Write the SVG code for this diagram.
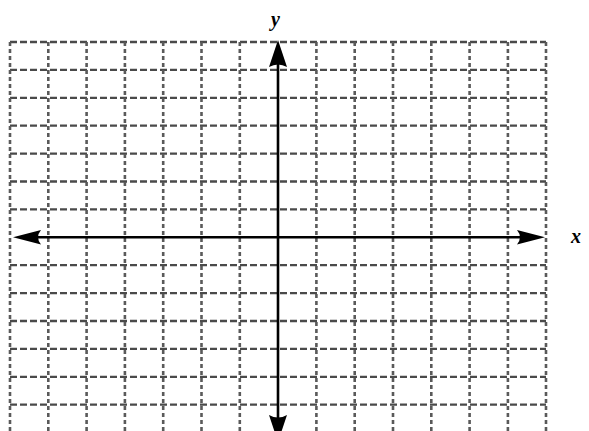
<svg xmlns="http://www.w3.org/2000/svg" width="589" height="431" viewBox="0 0 589 431">
<style>
.h{stroke:#4a4a4a;stroke-width:2.3;stroke-dasharray:7 3;fill:none}
.v{stroke:#5a5a5a;stroke-width:2.6;stroke-dasharray:4 3;fill:none}
.ax{stroke:#000;stroke-width:2.6;fill:none}
.ah{fill:#000}
.lbl{font-family:"Liberation Serif",serif;font-style:italic;font-weight:bold;font-size:20px;fill:#000}
</style>
<rect width="589" height="431" fill="#fff"/>
<g id="grid">
<path class="h" d="M10 42H546M10 69.9H546M10 97.8H546M10 125.7H546M10 153.6H546M10 181.5H546M10 209.4H546M10 265.2H546M10 293.1H546M10 321H546M10 348.9H546M10 376.8H546M10 404.7H546M10 432.6H546"/>
<path class="v" d="M10 42V433M48.3 42V433M86.6 42V433M124.9 42V433M163.2 42V433M201.5 42V433M239.8 42V433M316.4 42V433M354.7 42V433M393 42V433M431.3 42V433M469.6 42V433M507.9 42V433M546 42V433"/>
</g>
<g id="connectors">
<line class="ax" x1="30" y1="237.3" x2="530" y2="237.3"/>
<line class="ax" x1="278" y1="58" x2="278" y2="425"/>
<path class="ah" d="M13 237.3L41 230Q35 237.3 41 244.6Z"/>
<path class="ah" d="M545 237.3L517 230Q523 237.3 517 244.6Z"/>
<path class="ah" d="M278 40L287 67Q278 62 269 67Z"/>
<path class="ah" d="M278 442L287 415Q278 420 269 415Z"/>
</g>
<g id="label-y"><text class="lbl" x="271" y="26">y</text></g>
<g id="label-x"><text class="lbl" x="571" y="243">x</text></g>
</svg>
